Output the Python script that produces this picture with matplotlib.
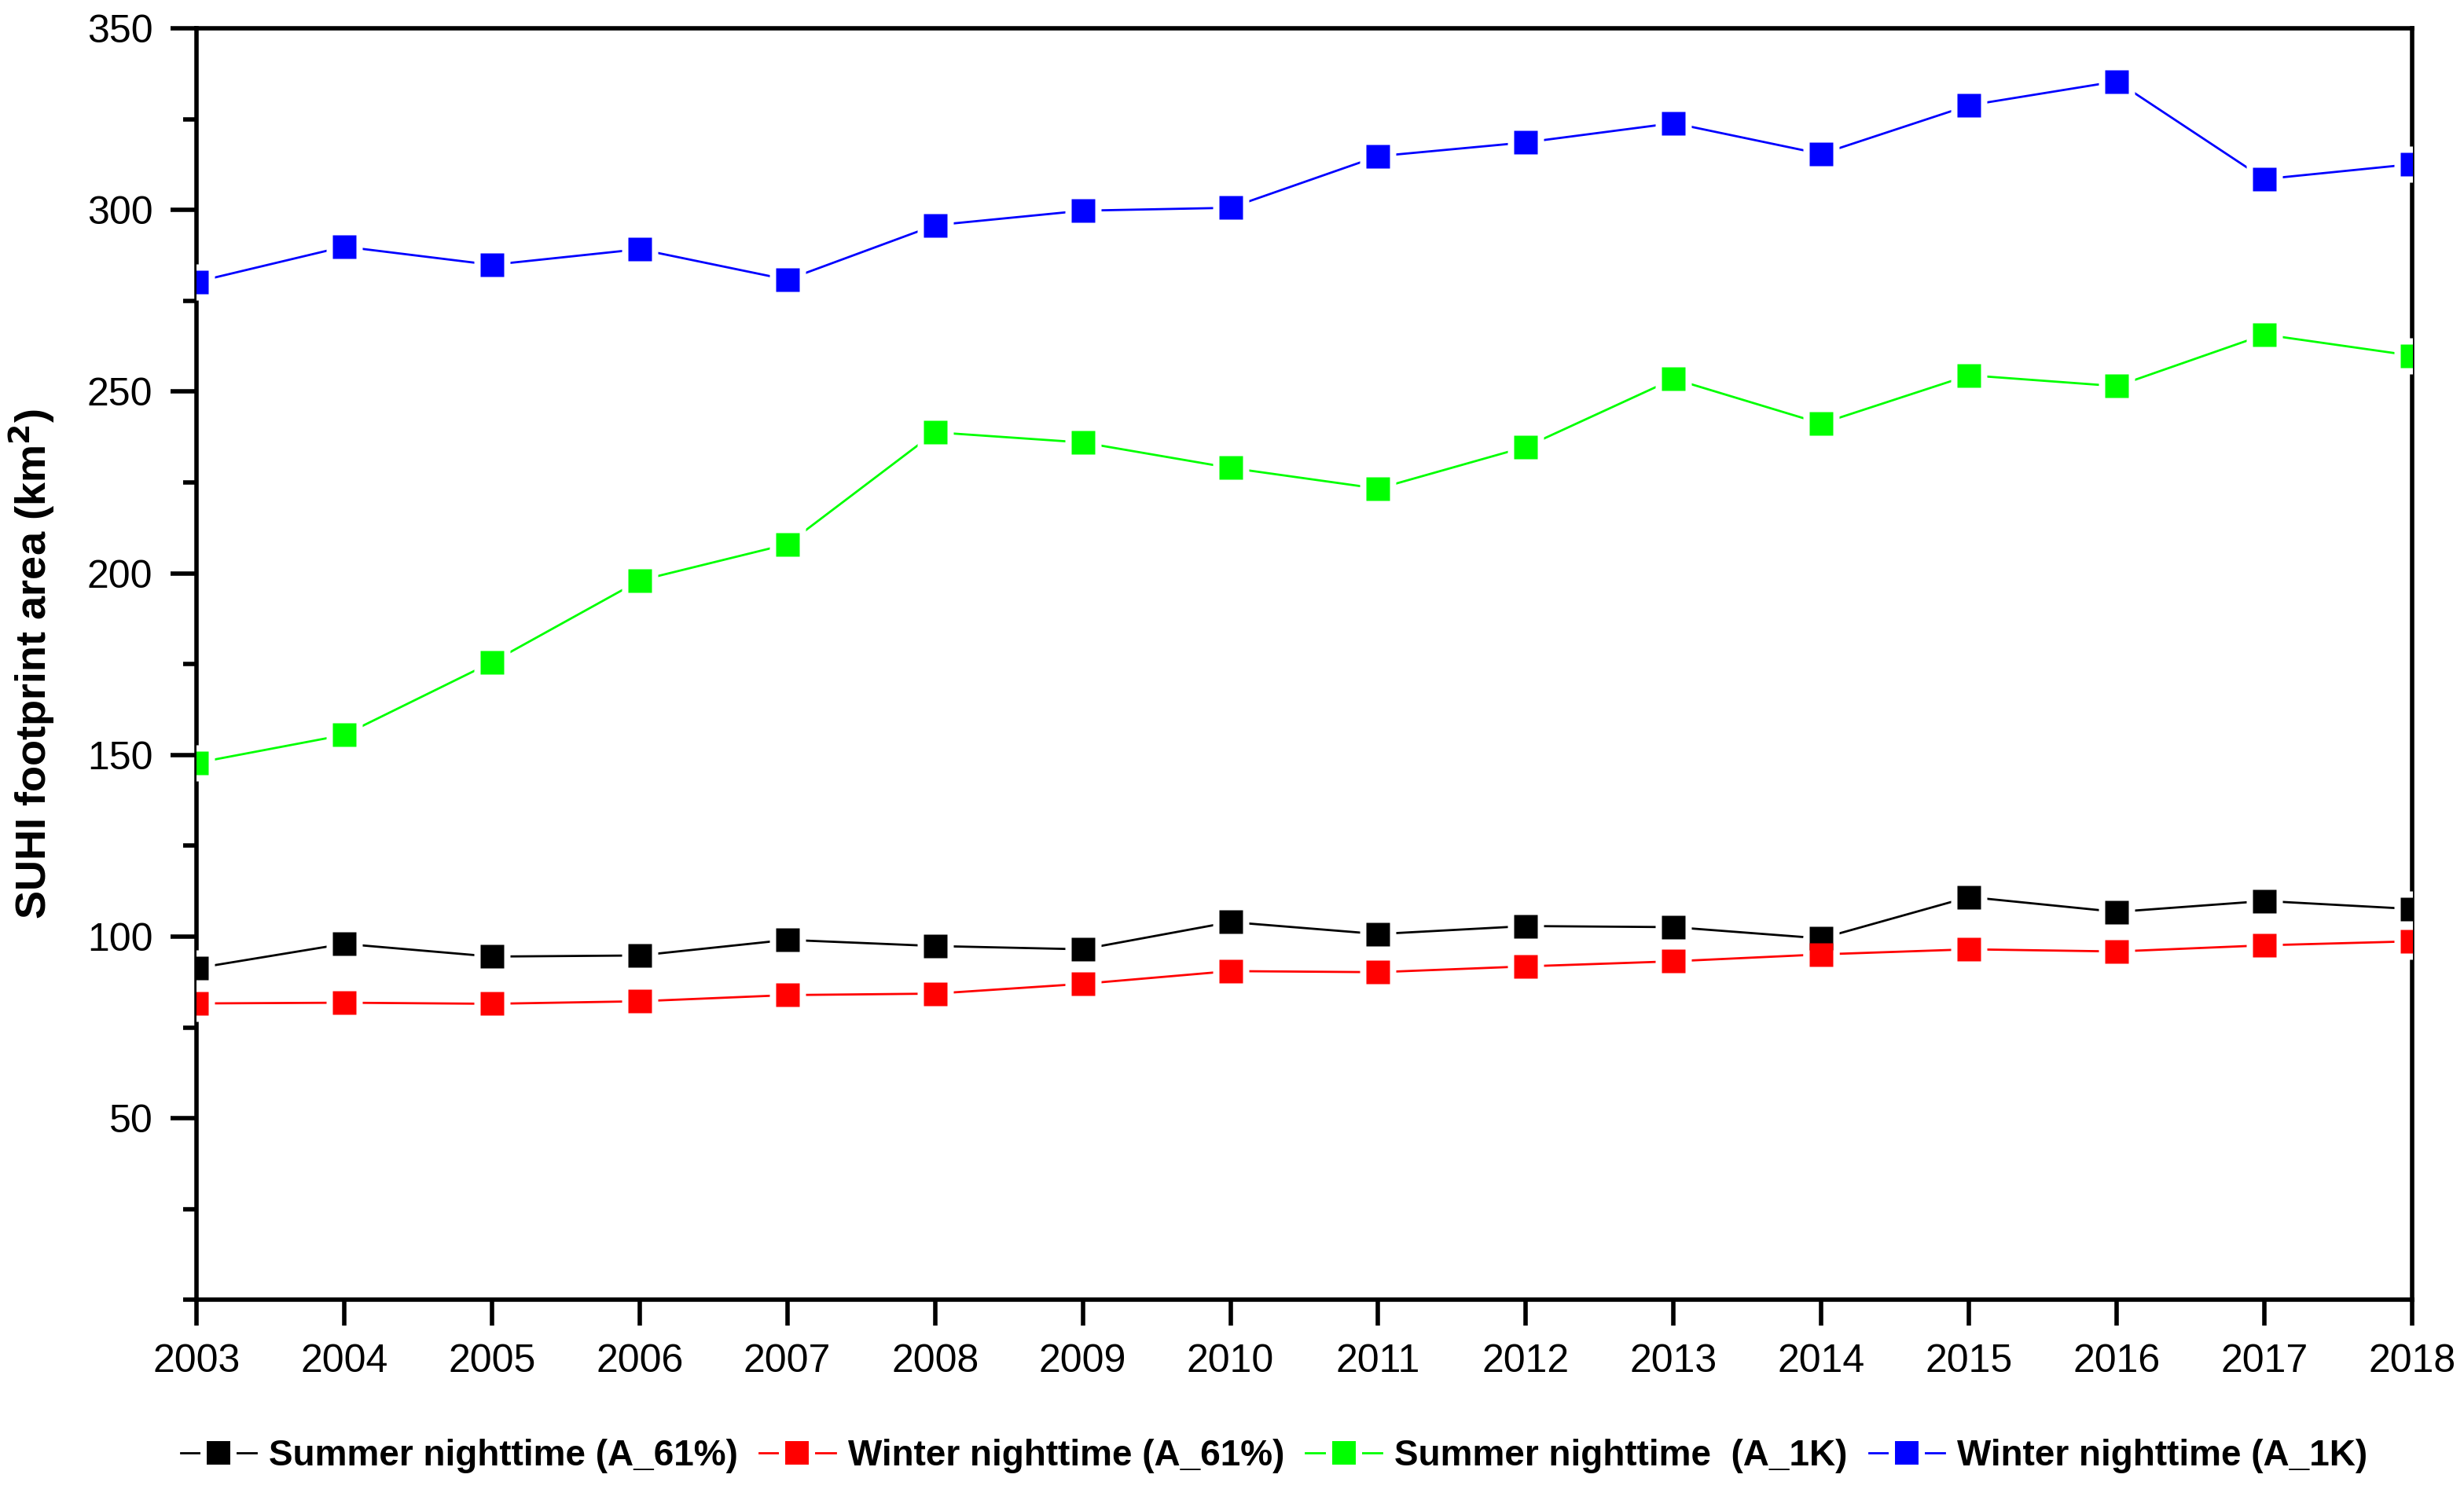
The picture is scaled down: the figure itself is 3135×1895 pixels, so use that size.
import matplotlib.pyplot as plt
from matplotlib.lines import Line2D
from matplotlib.ticker import MultipleLocator

plt.rcParams['font.family'] = ['Liberation Sans', 'DejaVu Sans']

# Data
years = list(range(2003, 2019))
summer_61 = [91.3, 98.0, 94.5, 94.8, 99.1, 97.4, 96.5, 104.0,
             100.7, 102.9, 102.6, 99.5, 110.9, 106.8, 109.8, 107.6]
winter_61 = [81.6, 81.8, 81.5, 82.2, 83.9, 84.3, 87.0, 90.5,
             90.2, 91.8, 93.2, 95.1, 96.5, 95.9, 97.6, 98.7]
summer_1k = [147.8, 155.5, 175.5, 198.0, 208.0, 238.8, 236.0, 229.0,
             223.3, 234.8, 253.5, 241.2, 254.5, 251.5, 265.7, 259.9]
winter_1k = [280.2, 289.9, 284.9, 289.2, 280.8, 295.8, 299.8, 300.6,
             314.8, 318.6, 323.9, 315.4, 328.8, 335.4, 308.5, 312.6]

labels = ['Summer nighttime (A_61%)', 'Winter nighttime (A_61%)',
          'Summer nighttime  (A_1K)', 'Winter nighttime (A_1K)']
colors = ['#000000', '#ff0000', '#00ff00', '#0000ff']
series = [summer_61, winter_61, summer_1k, winter_1k]

fig = plt.figure(figsize=(15.675, 9.475), dpi=200)
ax = fig.add_axes([0.0797, 0.127, 0.8993, 0.854])

ms = 10.8   # marker size (pt)
gap = 16.5  # white halo around markers, breaks the line

for vals, c in zip(series, colors):
    ax.plot(years, vals, color=c, lw=1.0, zorder=2)
for vals in series:
    ax.plot(years, vals, ls='none', marker='s', ms=gap, mfc='white',
            mec='none', zorder=3)
for vals, c in zip(series, colors):
    ax.plot(years, vals, ls='none', marker='s', ms=ms, mfc=c,
            mec='none', zorder=4)

ax.set_xlim(2003, 2018)
ax.set_ylim(0, 350)
ax.set_xticks(years)
ax.set_xticklabels([str(y) for y in years])
ax.set_yticks(range(50, 351, 50))
ax.yaxis.set_minor_locator(MultipleLocator(25))

for s in ax.spines.values():
    s.set_linewidth(2.0)
ax.tick_params(axis='both', which='major', direction='out', length=12,
               width=2.0, labelsize=18, pad=8)
ax.tick_params(axis='y', which='minor', direction='out', length=6, width=2.0)
ax.tick_params(axis='x', which='minor', bottom=False)

ax.set_ylabel('SUHI footprint area (km$^\\mathbf{2}$)', fontsize=19.5,
              fontweight='bold', labelpad=14)

handles = [Line2D([], [], color=c, lw=1.0, marker='s', ms=ms + 2.9,
                  mfc=c, mec='white', mew=2.9) for c in colors]
fig.legend(handles, labels, loc='center', bbox_to_anchor=(0.517, 0.022),
           ncol=4, frameon=False, prop={'weight': 'bold', 'size': 16.5},
           handlelength=2.1, handletextpad=0.35, columnspacing=0.6)

fig.savefig('out.png', dpi=200)
